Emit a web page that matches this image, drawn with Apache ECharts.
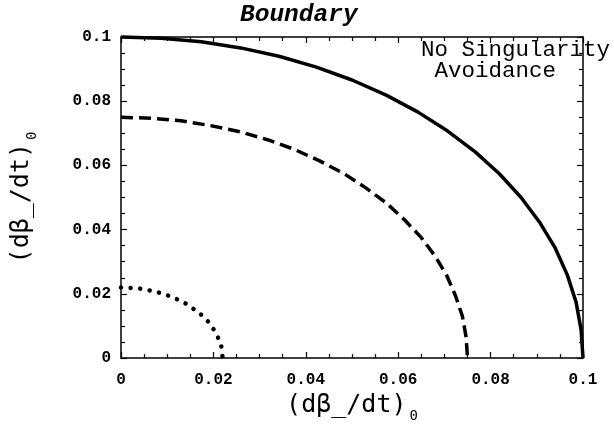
<!DOCTYPE html>
<html>
<head>
<meta charset="utf-8">
<script src="https://cdn.jsdelivr.net/npm/echarts@6/dist/echarts.min.js"></script>
<style>html,body{margin:0;padding:0;background:#fff;}#c{width:614px;height:432px;}</style>
</head>
<body>
<div id="c"></div>
<script>
// Values
const titleText = 'Boundary';
const noteText = 'No Singularity\n Avoidance';
const axisMin = 0;
const axisMax = 0.1;
const axisStep = 0.02;
const outerCurve = [[0,0.1],[0.0087,0.0996],[0.0174,0.0985],[0.0259,0.0966],[0.0342,0.094],[0.0423,0.0906],[0.05,0.0866],[0.0574,0.0819],[0.0643,0.0766],[0.0707,0.0707],[0.0766,0.0643],[0.0819,0.0574],[0.0866,0.05],[0.0906,0.0423],[0.094,0.0342],[0.0966,0.0259],[0.0985,0.0174],[0.0996,0.0087],[0.1,0]];
const middleCurve = [[0,0.075],[0.0065,0.0747],[0.013,0.0739],[0.0194,0.0724],[0.0257,0.0705],[0.0317,0.068],[0.0375,0.065],[0.043,0.0614],[0.0482,0.0575],[0.053,0.053],[0.0575,0.0482],[0.0614,0.043],[0.065,0.0375],[0.068,0.0317],[0.0705,0.0257],[0.0724,0.0194],[0.0739,0.013],[0.0747,0.0065],[0.075,0]];
const innerCurve = [[0,0.022],[0.0038,0.0217],[0.0075,0.0207],[0.011,0.0191],[0.0141,0.0169],[0.0169,0.0141],[0.0191,0.011],[0.0207,0.0075],[0.0217,0.0038],[0.022,0]];

const chart = echarts.init(document.getElementById('c'), null, {renderer: 'canvas'});
const monoFont = '"Liberation Mono", "DejaVu Sans Mono", monospace';
const nameFont = '"DejaVu Sans Mono", "Liberation Mono", monospace';
const axisRich = {
  a: {fontFamily: nameFont, fontSize: 25, color: '#000', lineHeight: 30, verticalAlign: 'top'},
  b: {fontFamily: nameFont, fontSize: 14, color: '#000', lineHeight: 30, verticalAlign: 'bottom', padding: [14, 0, 0, 3]}
};
function makeAxis(pos, showLabel, extra) {
  return Object.assign({
    type: 'value', position: pos, min: axisMin, max: axisMax, interval: axisStep,
    axisLine: {show: true, onZero: false, lineStyle: {color: '#000', width: 1.5}},
    axisTick: {show: true, inside: true, length: 6, lineStyle: {color: '#000', width: 1.2}},
    minorTick: {show: true, splitNumber: 4, length: 4, lineStyle: {color: '#000', width: 1.2}},
    splitLine: {show: false},
    axisLabel: {show: showLabel, color: '#000', fontFamily: monoFont, fontSize: 16, fontWeight: 'bold'}
  }, extra || {});
}
const lineBase = {type: 'line', showSymbol: false, symbol: 'none', smooth: false, clip: false, xAxisIndex: 0, yAxisIndex: 0};
chart.setOption({
  animation: false,
  backgroundColor: '#fff',
  grid: {left: 121, right: 31, top: 37, bottom: 74, containLabel: false},
  xAxis: [
    makeAxis('bottom', true, {
      axisLabel: {show: true, color: '#000', fontFamily: monoFont, fontSize: 16, fontWeight: 'bold', margin: 14},
      name: '{a|(dβ_/dt)}{b|0}', nameLocation: 'middle', nameGap: 28,
      nameTextStyle: {rich: axisRich}
    }),
    makeAxis('top', false)
  ],
  yAxis: [
    makeAxis('left', true, {
      axisLabel: {show: true, color: '#000', fontFamily: monoFont, fontSize: 16, fontWeight: 'bold', margin: 10},
      name: '{a|(dβ_/dt)}{b|0}', nameLocation: 'middle', nameGap: 82, nameRotate: 90,
      nameTextStyle: {rich: axisRich}
    }),
    makeAxis('right', false)
  ],
  graphic: [
    {type: 'text', left: 240, top: 2, style: {text: titleText, fontFamily: monoFont, fontSize: 24.5, fontWeight: 'bold', fontStyle: 'italic', fill: '#000'}},
    {type: 'text', left: 421, top: 39, style: {text: noteText, fontFamily: monoFont, fontSize: 22.5, lineHeight: 21, fill: '#000'}}
  ],
  series: [
    Object.assign({}, lineBase, {data: outerCurve, lineStyle: {color: '#000', width: 3.5, type: 'solid'}}),
    Object.assign({}, lineBase, {data: middleCurve, lineStyle: {color: '#000', width: 3.5, type: [12, 6]}}),
    Object.assign({}, lineBase, {data: innerCurve, lineStyle: {color: '#000', width: 4.5, type: [0.1, 9.5], cap: 'round'}})
  ]
});
</script>
</body>
</html>
